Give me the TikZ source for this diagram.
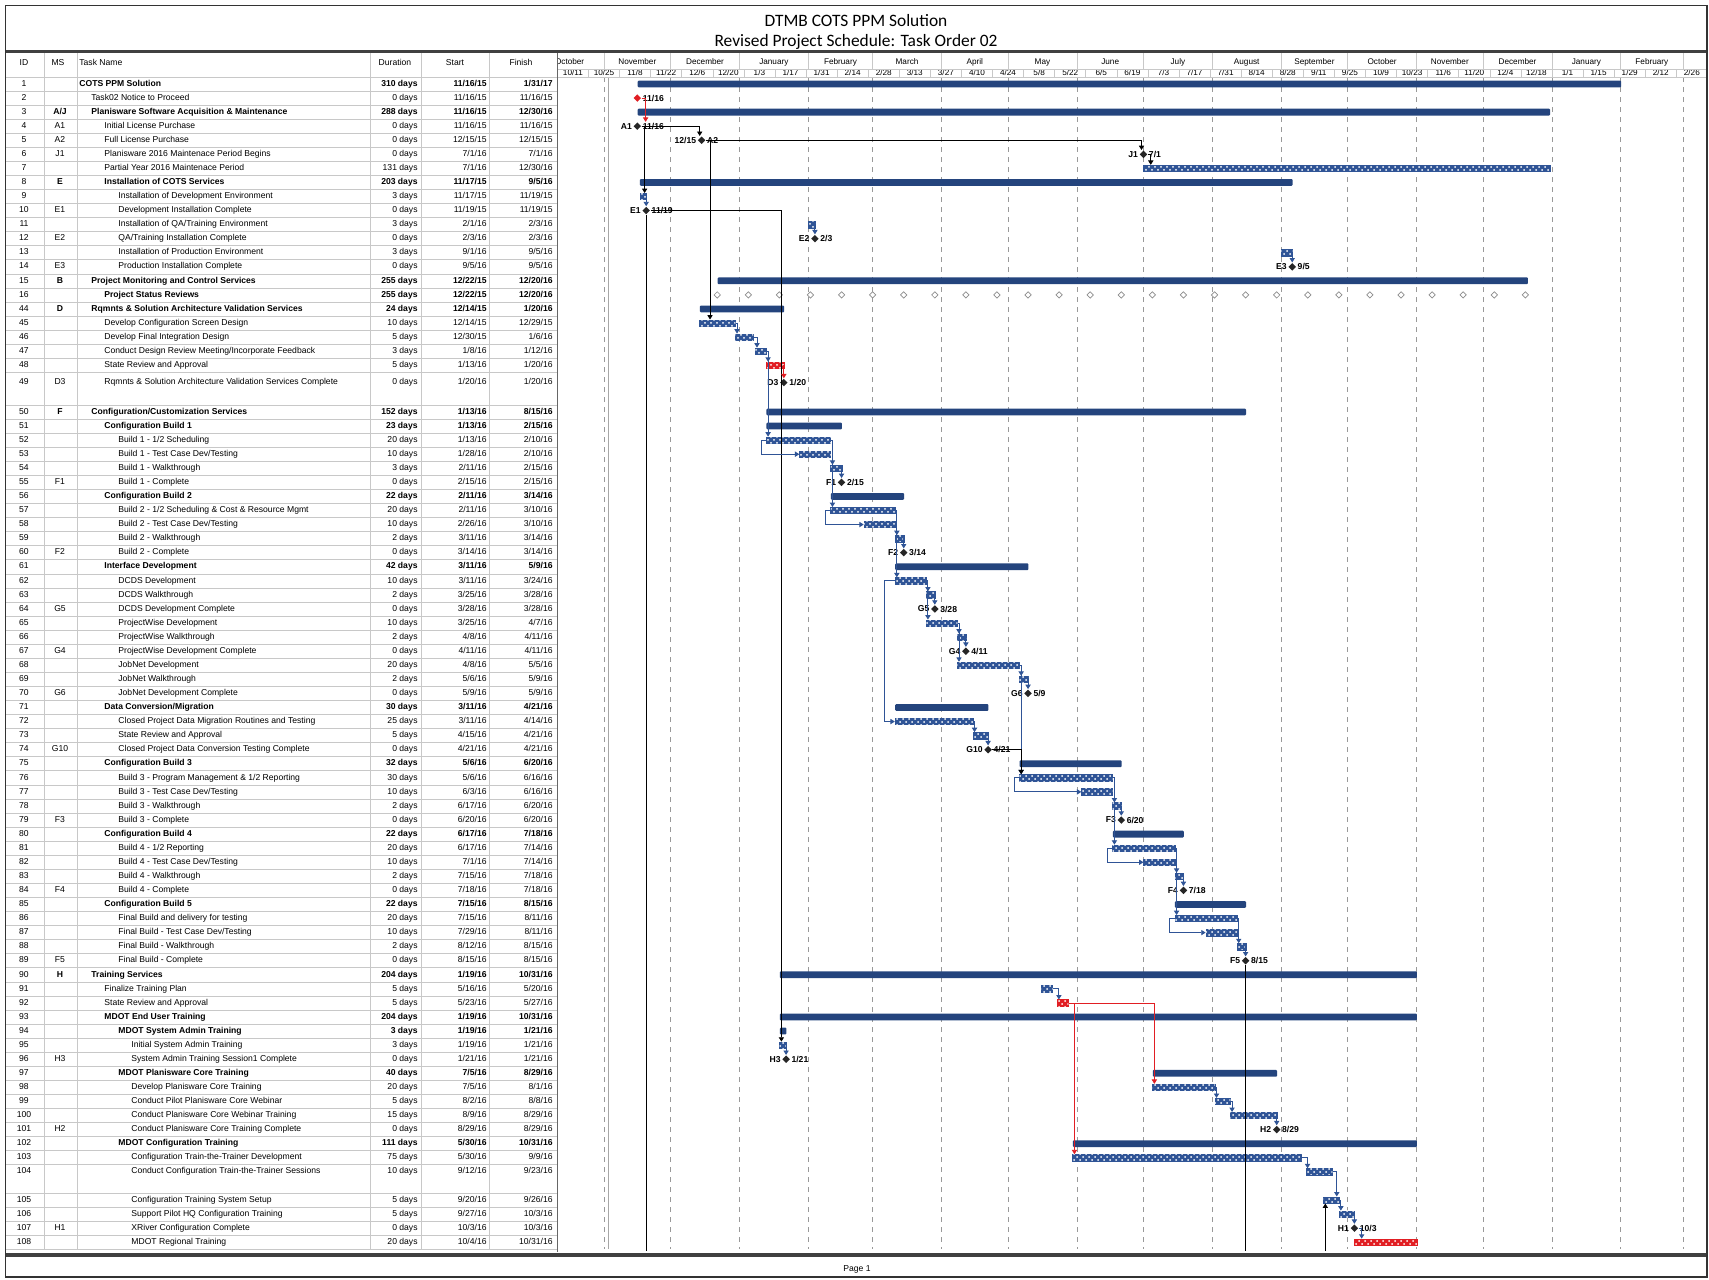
\documentclass[tikz,border=0pt]{standalone}
\usepackage{fontspec}
\setmainfont{Liberation Sans}
\newfontfamily\titlefont{Carlito}
\usetikzlibrary{arrows.meta, patterns, shapes.geometric}

\definecolor{barblue}{RGB}{47,84,150}
\definecolor{sumblue}{RGB}{36,68,125}
\definecolor{critred}{RGB}{225,30,35}
\definecolor{rulegray}{RGB}{200,200,200}

\newcommand\tabfont{\fontsize{4.3}{5}\selectfont}
\newcommand\tickfont{\fontsize{4.1}{5}\selectfont}
\newcommand\mslabfont{\fontsize{4.3}{5}\selectfont\bfseries}

% x of a day (counted from 10/11/15), y of a table row
\pgfmathdeclarefunction{dayx}{1}{\pgfmathparse{557.4+2.22*#1}}
\pgfmathdeclarefunction{rowy}{1}{\pgfmathparse{(#1<17) ? 84+14.06*(#1-1) : ((#1<49) ? 84+14.06*(#1-28) : ((#1<50) ? 382.6 : ((#1<105) ? 412+14.07*(#1-50) : 1200+14.07*(#1-105))))}}

% table row: id, ms, indent, font, name, duration, start, finish
\newcommand\trow[8]{%
  \node[cell] (id#1) at (24,{rowy(#1)}) {#1};
  \node[cell] (ms#1) at (60,{rowy(#1)}) {#4#2};
  \node[cell, anchor=west] (tn#1) at (#3,{rowy(#1)}) {#4#5};
  \node[cell, anchor=east] (du#1) at (418,{rowy(#1)}) {#4#6};
  \node[cell, anchor=east] (st#1) at (487,{rowy(#1)}) {#4#7};
  \node[cell, anchor=east] (fi#1) at (553,{rowy(#1)}) {#4#8};
}
% gantt bar: style, name, row, first day, day after last
\newcommand\gbar[5][tbar]{%
  \node[#1, anchor=west, minimum width={(#5-#4)*1.11pt}] (#2) at ({dayx(#4)},{rowy(#3)}) {};}
% milestone: style, name, row, day, left text, right text
\newcommand\gms[6][ms]{%
  \node[#1, label distance=1.6pt, label={[mslab]left:#5}, label={[mslab]right:#6}] (#2) at ({dayx(#4)},{rowy(#3)}) {};}

\begin{document}
\begin{tikzpicture}[x=0.5pt, y=-0.5pt,
  cell/.style={inner sep=0pt, font=\tabfont, text height=3.1pt, text depth=0.9pt},
  tick/.style={inner sep=0pt, font=\tickfont, text height=3pt, text depth=0.8pt},
  sbar/.style={fill=sumblue, minimum height=3.4pt, inner sep=0pt, rounded corners=0.5pt},
  tbar/.style={draw=barblue, line width=0.3pt, fill=barblue, minimum height=3.2pt, inner sep=0pt,
    postaction={pattern=crosshatch dots, pattern color=white}},
  cbar/.style={tbar, draw=critred, fill=critred},
  ms/.style={diamond, fill=black!85, minimum size=3.9pt, inner sep=0pt},
  cms/.style={ms, fill=critred},
  rev/.style={diamond, draw=black!45, fill=white, line width=0.35pt, minimum size=3.3pt, inner sep=0pt},
  mslab/.style={font=\mslabfont, inner sep=0.4pt},
  lnk/.style={draw=barblue, line width=0.45pt, -{Triangle[length=2.2pt, width=2.6pt]}},
  blk/.style={lnk, draw=black},
  rlk/.style={lnk, draw=critred},
  rowline/.style={draw=rulegray, line width=0.3pt},
  monthline/.style={draw=black!40, line width=0.35pt, dash pattern=on 2.5pt off 2.5pt}]

\useasboundingbox (0,0) rectangle (1709,1280);
\fill[white] (0,0) rectangle (1709,1280);

% title
\node[font=\titlefont\fontsize{8.7}{10}\selectfont, inner sep=0pt] (title) at (856,21) {DTMB COTS PPM Solution};
\node[font=\titlefont\fontsize{8.7}{10}\selectfont, inner sep=0pt] (subtitle) at (856,41.5) {Revised Project Schedule: Task Order 02};

% table grid
\foreach \n in {1,...,16,44,45,...,48,50,51,...,108}
  \draw[rowline] (6,{rowy(\n)-7.03}) -- (557,{rowy(\n)-7.03});
\draw[rowline] (6,372.2) -- (557,372.2);
\draw[rowline] (6,1249.2) -- (557,1249.2);
\foreach \x in {44,77,370,421,489}
  \draw[rowline] (\x,53) -- (\x,1249.2);

% header
\node[cell] (hid) at (24,63) {ID};
\node[cell] (hms) at (58,63) {MS};
\node[cell, anchor=west] (hname) at (79,63) {Task Name};
\node[cell] (hdur) at (395,63) {Duration};
\node[cell] (hstart) at (455,63) {Start};
\node[cell] (hfin) at (521,63) {Finish};

% timescale and month lines
\begin{scope}
  \clip (557,52) rectangle (1707,1252);
  \foreach \d in {-10,21,51,82,113,142,173,203,234,264,295,326,356,387,417,448,479,507}
    \draw[rowline] ({dayx(\d)},53) -- ({dayx(\d)},69);
  \foreach \i in {0,...,37}
    \draw[rowline] ({dayx(14*\i)},69) -- ({dayx(14*\i)},77);
  \foreach \c/\m [count=\k] in {5.5/October, 36/November, 66.5/December, 97.5/January,
      127.5/February, 157.5/March, 188/April, 218.5/May, 249/June, 279.5/July, 310.5/August,
      341/September, 371.5/October, 402/November, 432.5/December, 463.5/January,
      493/February, 522.5/March}
    \node[tick] (mo\k) at ({dayx(\c)},62) {\m};
  \foreach \t [count=\k from 0] in {10/11,10/25,11/8,11/22,12/6,12/20,1/3,1/17,1/31,2/14,
      2/28,3/13,3/27,4/10,4/24,5/8,5/22,6/5,6/19,7/3,7/17,7/31,8/14,8/28,9/11,9/25,10/9,
      10/23,11/6,11/20,12/4,12/18,1/1,1/15,1/29,2/12,2/26}
    \node[tick] (tk\k) at ({dayx(14*\k+7)},73.5) {\t};
  \foreach \d in {21,51,82,113,142,173,203,234,264,295,326,356,387,417,448,479,507}
    \draw[monthline] ({dayx(\d)},77) -- ({dayx(\d)},1249);
  \draw[black!35, line width=0.35pt] ({dayx(23)},77) -- ({dayx(23)},1249);
\end{scope}
\draw[rowline] (557,69) -- (1707,69);
\draw[rowline] (6,77) -- (1707,77);
\draw[black!60, line width=0.4pt] (557,53) -- (557,1252);

% table rows
\trow{1}{}{79}{\bfseries}{COTS PPM Solution}{310 days}{11/16/15}{1/31/17}
\trow{2}{}{91}{}{Task02 Notice to Proceed}{0 days}{11/16/15}{11/16/15}
\trow{3}{A/J}{91}{\bfseries}{Planisware Software Acquisition \& Maintenance}{288 days}{11/16/15}{12/30/16}
\trow{4}{A1}{104}{}{Initial License Purchase}{0 days}{11/16/15}{11/16/15}
\trow{5}{A2}{104}{}{Full License Purchase}{0 days}{12/15/15}{12/15/15}
\trow{6}{J1}{104}{}{Planisware 2016 Maintenace Period Begins}{0 days}{7/1/16}{7/1/16}
\trow{7}{}{104}{}{Partial Year 2016 Maintenace Period}{131 days}{7/1/16}{12/30/16}
\trow{8}{E}{104}{\bfseries}{Installation of COTS Services}{203 days}{11/17/15}{9/5/16}
\trow{9}{}{118}{}{Installation of Development Environment}{3 days}{11/17/15}{11/19/15}
\trow{10}{E1}{118}{}{Development Installation Complete}{0 days}{11/19/15}{11/19/15}
\trow{11}{}{118}{}{Installation of QA/Training Environment}{3 days}{2/1/16}{2/3/16}
\trow{12}{E2}{118}{}{QA/Training Installation Complete}{0 days}{2/3/16}{2/3/16}
\trow{13}{}{118}{}{Installation of Production Environment}{3 days}{9/1/16}{9/5/16}
\trow{14}{E3}{118}{}{Production Installation Complete}{0 days}{9/5/16}{9/5/16}
\trow{15}{B}{91}{\bfseries}{Project Monitoring and Control Services}{255 days}{12/22/15}{12/20/16}
\trow{16}{}{104}{\bfseries}{Project Status Reviews}{255 days}{12/22/15}{12/20/16}
\trow{44}{D}{91}{\bfseries}{Rqmnts \& Solution Architecture Validation Services}{24 days}{12/14/15}{1/20/16}
\trow{45}{}{104}{}{Develop Configuration Screen Design}{10 days}{12/14/15}{12/29/15}
\trow{46}{}{104}{}{Develop Final Integration Design}{5 days}{12/30/15}{1/6/16}
\trow{47}{}{104}{}{Conduct Design Review Meeting/Incorporate Feedback}{3 days}{1/8/16}{1/12/16}
\trow{48}{}{104}{}{State Review and Approval}{5 days}{1/13/16}{1/20/16}
\trow{49}{D3}{104}{}{Rqmnts \& Solution Architecture Validation Services Complete}{0 days}{1/20/16}{1/20/16}
\trow{50}{F}{91}{\bfseries}{Configuration/Customization Services}{152 days}{1/13/16}{8/15/16}
\trow{51}{}{104}{\bfseries}{Configuration Build 1}{23 days}{1/13/16}{2/15/16}
\trow{52}{}{118}{}{Build 1 - 1/2 Scheduling}{20 days}{1/13/16}{2/10/16}
\trow{53}{}{118}{}{Build 1 - Test Case Dev/Testing}{10 days}{1/28/16}{2/10/16}
\trow{54}{}{118}{}{Build 1 - Walkthrough}{3 days}{2/11/16}{2/15/16}
\trow{55}{F1}{118}{}{Build 1 - Complete}{0 days}{2/15/16}{2/15/16}
\trow{56}{}{104}{\bfseries}{Configuration Build 2}{22 days}{2/11/16}{3/14/16}
\trow{57}{}{118}{}{Build 2 - 1/2 Scheduling \& Cost \& Resource Mgmt}{20 days}{2/11/16}{3/10/16}
\trow{58}{}{118}{}{Build 2 - Test Case Dev/Testing}{10 days}{2/26/16}{3/10/16}
\trow{59}{}{118}{}{Build 2 - Walkthrough}{2 days}{3/11/16}{3/14/16}
\trow{60}{F2}{118}{}{Build 2 - Complete}{0 days}{3/14/16}{3/14/16}
\trow{61}{}{104}{\bfseries}{Interface Development}{42 days}{3/11/16}{5/9/16}
\trow{62}{}{118}{}{DCDS Development}{10 days}{3/11/16}{3/24/16}
\trow{63}{}{118}{}{DCDS Walkthrough}{2 days}{3/25/16}{3/28/16}
\trow{64}{G5}{118}{}{DCDS Development Complete}{0 days}{3/28/16}{3/28/16}
\trow{65}{}{118}{}{ProjectWise Development}{10 days}{3/25/16}{4/7/16}
\trow{66}{}{118}{}{ProjectWise Walkthrough}{2 days}{4/8/16}{4/11/16}
\trow{67}{G4}{118}{}{ProjectWise Development Complete}{0 days}{4/11/16}{4/11/16}
\trow{68}{}{118}{}{JobNet Development}{20 days}{4/8/16}{5/5/16}
\trow{69}{}{118}{}{JobNet Walkthrough}{2 days}{5/6/16}{5/9/16}
\trow{70}{G6}{118}{}{JobNet Development Complete}{0 days}{5/9/16}{5/9/16}
\trow{71}{}{104}{\bfseries}{Data Conversion/Migration}{30 days}{3/11/16}{4/21/16}
\trow{72}{}{118}{}{Closed Project Data Migration Routines and Testing}{25 days}{3/11/16}{4/14/16}
\trow{73}{}{118}{}{State Review and Approval}{5 days}{4/15/16}{4/21/16}
\trow{74}{G10}{118}{}{Closed Project Data Conversion Testing Complete}{0 days}{4/21/16}{4/21/16}
\trow{75}{}{104}{\bfseries}{Configuration Build 3}{32 days}{5/6/16}{6/20/16}
\trow{76}{}{118}{}{Build 3 - Program Management \& 1/2 Reporting}{30 days}{5/6/16}{6/16/16}
\trow{77}{}{118}{}{Build 3 - Test Case Dev/Testing}{10 days}{6/3/16}{6/16/16}
\trow{78}{}{118}{}{Build 3 - Walkthrough}{2 days}{6/17/16}{6/20/16}
\trow{79}{F3}{118}{}{Build 3 - Complete}{0 days}{6/20/16}{6/20/16}
\trow{80}{}{104}{\bfseries}{Configuration Build 4}{22 days}{6/17/16}{7/18/16}
\trow{81}{}{118}{}{Build 4 - 1/2 Reporting}{20 days}{6/17/16}{7/14/16}
\trow{82}{}{118}{}{Build 4 - Test Case Dev/Testing}{10 days}{7/1/16}{7/14/16}
\trow{83}{}{118}{}{Build 4 - Walkthrough}{2 days}{7/15/16}{7/18/16}
\trow{84}{F4}{118}{}{Build 4 - Complete}{0 days}{7/18/16}{7/18/16}
\trow{85}{}{104}{\bfseries}{Configuration Build 5}{22 days}{7/15/16}{8/15/16}
\trow{86}{}{118}{}{Final Build and delivery for testing}{20 days}{7/15/16}{8/11/16}
\trow{87}{}{118}{}{Final Build - Test Case Dev/Testing}{10 days}{7/29/16}{8/11/16}
\trow{88}{}{118}{}{Final Build - Walkthrough}{2 days}{8/12/16}{8/15/16}
\trow{89}{F5}{118}{}{Final Build - Complete}{0 days}{8/15/16}{8/15/16}
\trow{90}{H}{91}{\bfseries}{Training Services}{204 days}{1/19/16}{10/31/16}
\trow{91}{}{104}{}{Finalize Training Plan}{5 days}{5/16/16}{5/20/16}
\trow{92}{}{104}{}{State Review and Approval}{5 days}{5/23/16}{5/27/16}
\trow{93}{}{104}{\bfseries}{MDOT End User Training}{204 days}{1/19/16}{10/31/16}
\trow{94}{}{118}{\bfseries}{MDOT System Admin Training}{3 days}{1/19/16}{1/21/16}
\trow{95}{}{131}{}{Initial System Admin Training}{3 days}{1/19/16}{1/21/16}
\trow{96}{H3}{131}{}{System Admin Training Session1 Complete}{0 days}{1/21/16}{1/21/16}
\trow{97}{}{118}{\bfseries}{MDOT Planisware Core Training}{40 days}{7/5/16}{8/29/16}
\trow{98}{}{131}{}{Develop Planisware Core Training}{20 days}{7/5/16}{8/1/16}
\trow{99}{}{131}{}{Conduct Pilot Planisware Core Webinar}{5 days}{8/2/16}{8/8/16}
\trow{100}{}{131}{}{Conduct Planisware Core Webinar Training}{15 days}{8/9/16}{8/29/16}
\trow{101}{H2}{131}{}{Conduct Planisware Core Training Complete}{0 days}{8/29/16}{8/29/16}
\trow{102}{}{118}{\bfseries}{MDOT Configuration Training}{111 days}{5/30/16}{10/31/16}
\trow{103}{}{131}{}{Configuration Train-the-Trainer Development}{75 days}{5/30/16}{9/9/16}
\trow{104}{}{131}{}{Conduct Configuration Train-the-Trainer Sessions}{10 days}{9/12/16}{9/23/16}
\trow{105}{}{131}{}{Configuration Training System Setup}{5 days}{9/20/16}{9/26/16}
\trow{106}{}{131}{}{Support Pilot HQ Configuration Training}{5 days}{9/27/16}{10/3/16}
\trow{107}{H1}{131}{}{XRiver Configuration Complete}{0 days}{10/3/16}{10/3/16}
\trow{108}{}{131}{}{MDOT Regional Training}{20 days}{10/4/16}{10/31/16}

% summary bars
\gbar[sbar]{b1}{1}{36}{479}
\gbar[sbar]{b3}{3}{36}{447}
\gbar[sbar]{b8}{8}{37}{331}
\gbar[sbar]{b15}{15}{72}{437}
\gbar[sbar]{b44}{44}{64}{102}
\gbar[sbar]{b50}{50}{94}{310}
\gbar[sbar]{b51}{51}{94}{128}
\gbar[sbar]{b56}{56}{123}{156}
\gbar[sbar]{b61}{61}{152}{212}
\gbar[sbar]{b71}{71}{152}{194}
\gbar[sbar]{b75}{75}{208}{254}
\gbar[sbar]{b80}{80}{250}{282}
\gbar[sbar]{b85}{85}{278}{310}
\gbar[sbar]{b90}{90}{100}{387}
\gbar[sbar]{b93}{93}{100}{387}
\gbar[sbar]{b94}{94}{100}{103}
\gbar[sbar]{b97}{97}{268}{324}
\gbar[sbar]{b102}{102}{232}{387}

% task bars
\gbar{b7}{7}{264}{447}
\gbar{b9}{9}{37}{40}
\gbar{b11}{11}{113}{116}
\gbar{b13}{13}{326}{331}
\gbar{b45}{45}{64}{80}
\gbar{b46}{46}{80}{88}
\gbar{b47}{47}{89}{94}
\gbar[cbar]{b48}{48}{94}{102}
\gbar{b52}{52}{94}{123}
\gbar{b53}{53}{109}{123}
\gbar{b54}{54}{123}{128}
\gbar{b57}{57}{123}{152}
\gbar{b58}{58}{138}{152}
\gbar{b59}{59}{152}{156}
\gbar{b62}{62}{152}{166}
\gbar{b63}{63}{166}{170}
\gbar{b65}{65}{166}{180}
\gbar{b66}{66}{180}{184}
\gbar{b68}{68}{180}{208}
\gbar{b69}{69}{208}{212}
\gbar{b72}{72}{152}{187}
\gbar{b73}{73}{187}{194}
\gbar{b76}{76}{208}{250}
\gbar{b77}{77}{236}{250}
\gbar{b78}{78}{250}{254}
\gbar{b81}{81}{250}{278}
\gbar{b82}{82}{264}{278}
\gbar{b83}{83}{278}{282}
\gbar{b86}{86}{278}{306}
\gbar{b87}{87}{292}{306}
\gbar{b88}{88}{306}{310}
\gbar{b91}{91}{218}{223}
\gbar[cbar]{b92}{92}{225}{230}
\gbar{b95}{95}{100}{103}
\gbar{b98}{98}{268}{296}
\gbar{b99}{99}{296}{303}
\gbar{b100}{100}{303}{324}
\gbar{b103}{103}{232}{335}
\gbar{b104}{104}{337}{349}
\gbar{b105}{105}{345}{352}
\gbar{b106}{106}{352}{359}
\gbar[cbar]{b108}{108}{359}{387}

% status reviews
\foreach \i in {0,...,26}
  \node[rev] (rv\i) at ({dayx(72+14*\i)},{rowy(16)}) {};

% milestones
\gms[cms]{m2}{2}{36}{}{11/16}
\gms{m4}{4}{36}{A1}{11/16}
\gms{m5}{5}{65}{12/15}{A2}
\gms{m6}{6}{264}{J1}{7/1}
\gms{m10}{10}{40}{E1}{11/19}
\gms{m12}{12}{116}{E2}{2/3}
\gms{m14}{14}{331}{E3}{9/5}
\gms{m49}{49}{102}{D3}{1/20}
\gms{m55}{55}{128}{F1}{2/15}
\gms{m60}{60}{156}{F2}{3/14}
\gms{m64}{64}{170}{G5}{3/28}
\gms{m67}{67}{184}{G4}{4/11}
\gms{m70}{70}{212}{G6}{5/9}
\gms{m74}{74}{194}{G10}{4/21}
\gms{m79}{79}{254}{F3}{6/20}
\gms{m84}{84}{282}{F4}{7/18}
\gms{m89}{89}{310}{F5}{8/15}
\gms{m96}{96}{103}{H3}{1/21}
\gms{m101}{101}{324}{H2}{8/29}
\gms{m107}{107}{359}{H1}{10/3}

% links
\coordinate (bot) at (1000,1251);
\draw[rlk] (m2.east) -- ++(2pt,0) coordinate (k2) -- (k2 |- m4.north);
\draw[blk] (m4.east) -| ([xshift=-1pt]m5.north);
\draw[blk] (m4.east) -- ++(1.5pt,0) coordinate (k4) -- (k4 |- b9.north);
\draw[blk] (m5.east) -| ([xshift=-1pt]m6.north);
\draw[blk] (m5.east) -- ++(2pt,0) coordinate (k5) -- (k5 |- b45.north);
\draw[blk] (m6.east) -- ++(1.5pt,0) coordinate (k6) -- (k6 |- b7.north);
\draw[lnk] (b9.east) -| (m10.north);
\draw[blk] (m10.east) -| ([xshift=1pt]b95.north west);
\draw[blk, -] (m10.south) -- (m10.south |- bot);
\draw[lnk] (b11.east) -| (m12.north);
\draw[lnk] (b13.east) -| (m14.north);
\draw[lnk] (b45.east) -| ([xshift=1pt]b46.north west);
\draw[lnk] (b46.east) -| ([xshift=1pt]b47.north west);
\draw[lnk] (b47.east) -| ([xshift=1pt]b48.north west);
\draw[lnk] (b47.east) -| ([xshift=1pt]b52.north west);
\draw[rlk] (b48.east) -| (m49.north);
\draw[lnk] (b52.west) -- ++(-2.5pt,0) |- (b53.west);
\draw[lnk] (b52.east) -| ([xshift=1pt]b54.north west);
\draw[lnk] (b52.east) -| ([xshift=1pt]b57.north west);
\draw[lnk] (b54.east) -| (m55.north);
\draw[lnk] (b57.west) -- ++(-2.5pt,0) |- (b58.west);
\draw[lnk] (b57.east) -| ([xshift=1pt]b59.north west);
\draw[lnk] (b57.east) -| ([xshift=1pt]b62.north west);
\draw[lnk] (b59.east) -| (m60.north);
\draw[lnk] (b62.west) -- ++(-5pt,0) |- (b72.west);
\draw[lnk] (b62.east) -| ([xshift=1pt]b63.north west);
\draw[lnk] (b62.east) -| ([xshift=1pt]b65.north west);
\draw[lnk] (b63.east) -| (m64.north);
\draw[lnk] (b65.east) -| ([xshift=1pt]b66.north west);
\draw[lnk] (b65.east) -| ([xshift=1pt]b68.north west);
\draw[lnk] (b66.east) -| (m67.north);
\draw[lnk] (b68.east) -| ([xshift=1pt]b69.north west);
\draw[lnk] (b68.east) -| ([xshift=1pt]b76.north west);
\draw[lnk] (b69.east) -| (m70.north);
\draw[lnk] (b72.east) -| ([xshift=1pt]b73.north west);
\draw[lnk] (b73.east) -| (m74.north);
\draw[blk] (m74.east) -| ([xshift=1pt]b76.north west);
\draw[lnk] (b76.west) -- ++(-2.5pt,0) |- (b77.west);
\draw[lnk] (b76.east) -| ([xshift=1pt]b78.north west);
\draw[lnk] (b76.east) -| ([xshift=1pt]b81.north west);
\draw[lnk] (b78.east) -| (m79.north);
\draw[lnk] (b81.west) -- ++(-2.5pt,0) |- (b82.west);
\draw[lnk] (b81.east) -| ([xshift=1pt]b83.north west);
\draw[lnk] (b81.east) -| ([xshift=1pt]b86.north west);
\draw[lnk] (b83.east) -| (m84.north);
\draw[lnk] (b86.west) -- ++(-2.5pt,0) |- (b87.west);
\draw[lnk] (b86.east) -| ([xshift=1pt]b88.north west);
\draw[lnk] (b88.east) -| (m89.north);
\draw[blk, -] (m89.south) -- (m89.south |- bot);
\draw[lnk] (b91.east) -| ([xshift=1pt]b92.north west);
\draw[rlk, line width=0.35pt] (b92.east) -| ([xshift=1pt]b98.north west);
\draw[rlk] (b92.east) -| ([xshift=1pt]b103.north west);
\draw[lnk] (b95.east) -| (m96.north);
\draw[lnk] (b98.east) -| ([xshift=1pt]b99.north west);
\draw[lnk] (b99.east) -| ([xshift=1pt]b100.north west);
\draw[lnk] (b100.east) -| (m101.north);
\draw[lnk] (b103.east) -| ([xshift=1pt]b104.north west);
\draw[lnk] (b104.east) -- ++(2pt,0) coordinate (k104) -- (k104 |- b105.north);
\coordinate (u105) at ([xshift=1pt]b105.south west);
\draw[blk] (u105 |- bot) -- (u105);
\draw[lnk] (b105.east) -| ([xshift=1pt]b106.north west);
\draw[lnk] (b106.east) -| (m107.north);
\draw[lnk] (m107.east) -- ++(1.5pt,0) coordinate (k107) -- (k107 |- b108.north);

% frame and footer
\draw[black!75, line width=1.6pt] (5.5,51.5) -- (1707,51.5);
\draw[black!75, line width=1.6pt] (5.5,1255) -- (1707,1255);
\draw[black!80, line width=0.8pt] (5.5,5.5) rectangle (1707,1277);
\node[cell] (page) at (857,1269) {Page 1};
\end{tikzpicture}
\end{document}
